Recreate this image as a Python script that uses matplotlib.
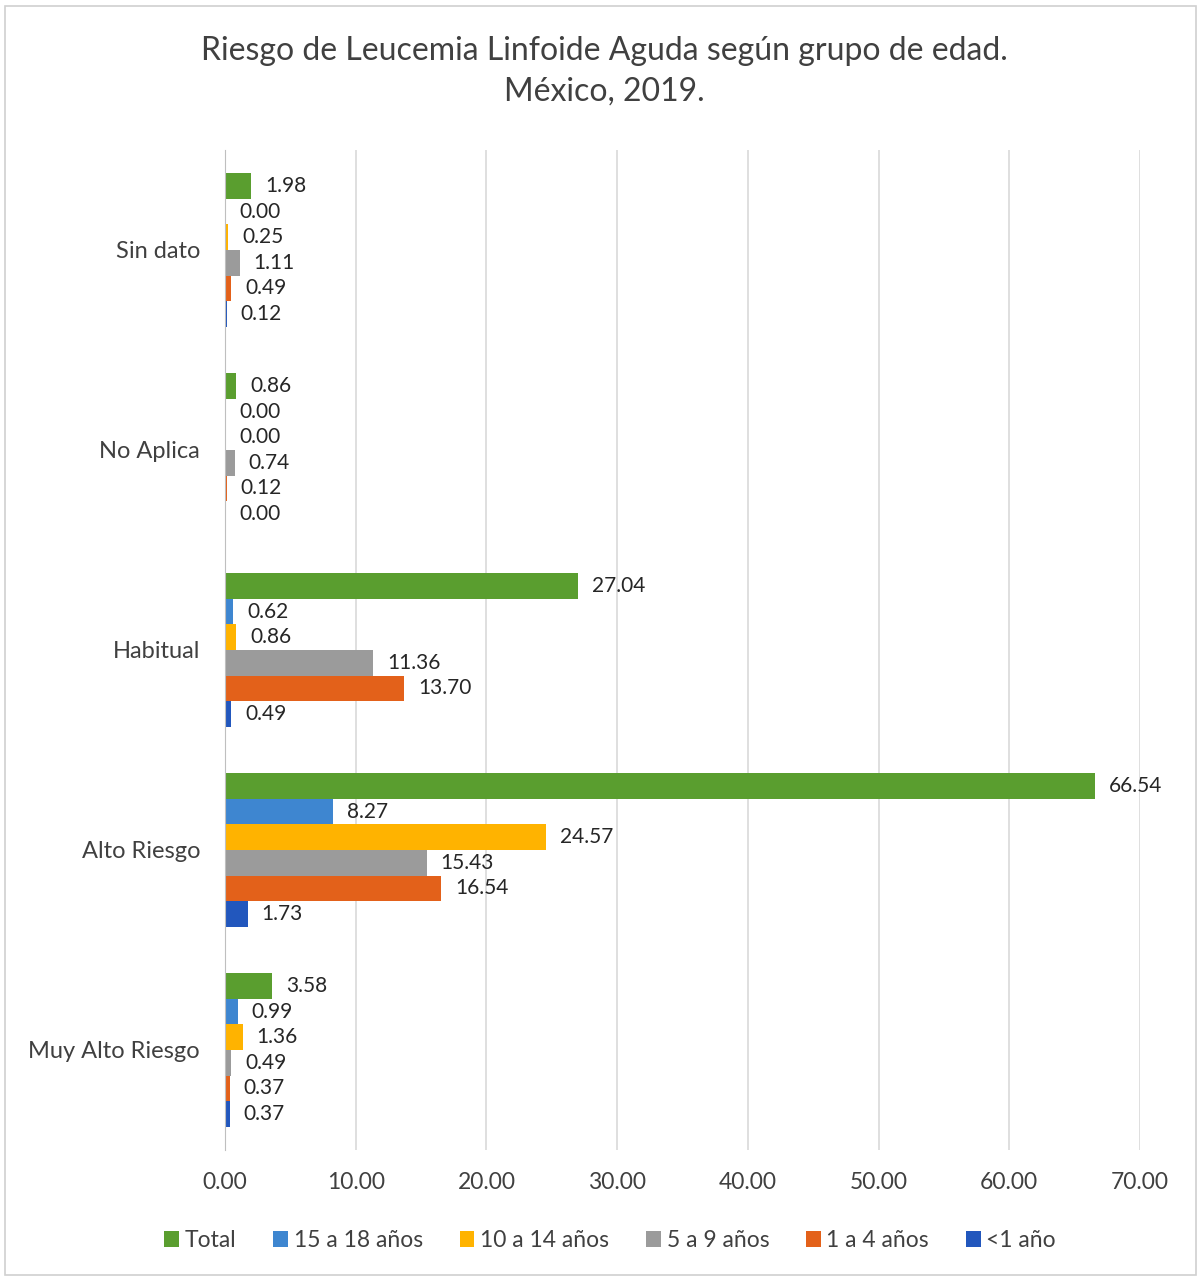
import numpy as np
import matplotlib.pyplot as plt
from matplotlib.patches import Rectangle

plt.rcParams['font.family'] = ['Lato', 'DejaVu Sans']

# categories, bottom to top as drawn
categories = ["Muy Alto Riesgo", "Alto Riesgo", "Habitual", "No Aplica", "Sin dato"]

# series (drawn top to bottom inside each group)
series_names = ["Total", "15 a 18 años", "10 a 14 años", "5 a 9 años", "1 a 4 años", "<1 año"]
total = [3.58, 66.54, 27.04, 0.86, 1.98]
age_15_18 = [0.99, 8.27, 0.62, 0.00, 0.00]
age_10_14 = [1.36, 24.57, 0.86, 0.00, 0.25]
age_5_9 = [0.49, 15.43, 11.36, 0.74, 1.11]
age_1_4 = [0.37, 16.54, 13.70, 0.12, 0.49]
age_lt1 = [0.37, 1.73, 0.49, 0.00, 0.12]

series = [total, age_15_18, age_10_14, age_5_9, age_1_4, age_lt1]
colors = ["#5A9E2F", "#3E86D0", "#FFB300", "#9B9B9B", "#E3611A", "#2257BD"]
x_ticks = [0, 10, 20, 30, 40, 50, 60, 70]

fig = plt.figure(figsize=(12.01, 12.79), dpi=100)
ax = fig.add_axes([225 / 1201, 1 - 1150 / 1279, (1140 - 225) / 1201, 1000 / 1279])

# light chart border like the original
fig.patches.append(Rectangle((0.004, 0.003), 0.992, 0.992, transform=fig.transFigure,
                             fill=False, edgecolor="#D0D0D0", linewidth=1.2))

y = np.arange(len(categories))
h = 0.128
n = len(series)
for i, (vals, name, c) in enumerate(zip(series, series_names, colors)):
    offs = (n - 1) / 2 * h - i * h
    bars = ax.barh(y + offs, vals, height=h, color=c, label=name, zorder=3)
    for b, v in zip(bars, vals):
        ax.annotate(f"{v:.2f}", (b.get_width(), b.get_y() + b.get_height() / 2),
                    xytext=(10, 0), textcoords="offset points", va="center", ha="left",
                    fontsize=15, color="#262626")

ax.set_xlim(0, 70)
ax.set_ylim(-0.5, 4.5)
ax.set_xticks(x_ticks)
ax.set_xticklabels([f"{t:.2f}" for t in x_ticks], fontsize=16.5, color="#404040")
ax.set_yticks(y)
ax.set_yticklabels(categories, fontsize=17, color="#404040")
ax.tick_params(axis="y", length=0, pad=18)
ax.tick_params(axis="x", length=0, pad=16)
ax.grid(axis="x", color="#D9D9D9", linewidth=1.2, zorder=0)
for s in ["top", "right", "bottom"]:
    ax.spines[s].set_visible(False)
ax.spines["left"].set_color("#BFBFBF")
ax.spines["left"].set_zorder(4)

fig.text(0.503, 0.944, "Riesgo de Leucemia Linfoide Aguda según grupo de edad.\nMéxico, 2019.",
         ha="center", va="center", fontsize=23, color="#404040", linespacing=1.45)

handles, labels = ax.get_legend_handles_labels()
fig.legend(handles, labels, loc="center", bbox_to_anchor=(0.508, 0.030), ncol=6,
           frameon=False, fontsize=16.5, handlelength=0.65, handleheight=0.65,
           handletextpad=0.25, columnspacing=1.6, labelcolor="#404040")

fig.savefig("out.png", dpi=100)
